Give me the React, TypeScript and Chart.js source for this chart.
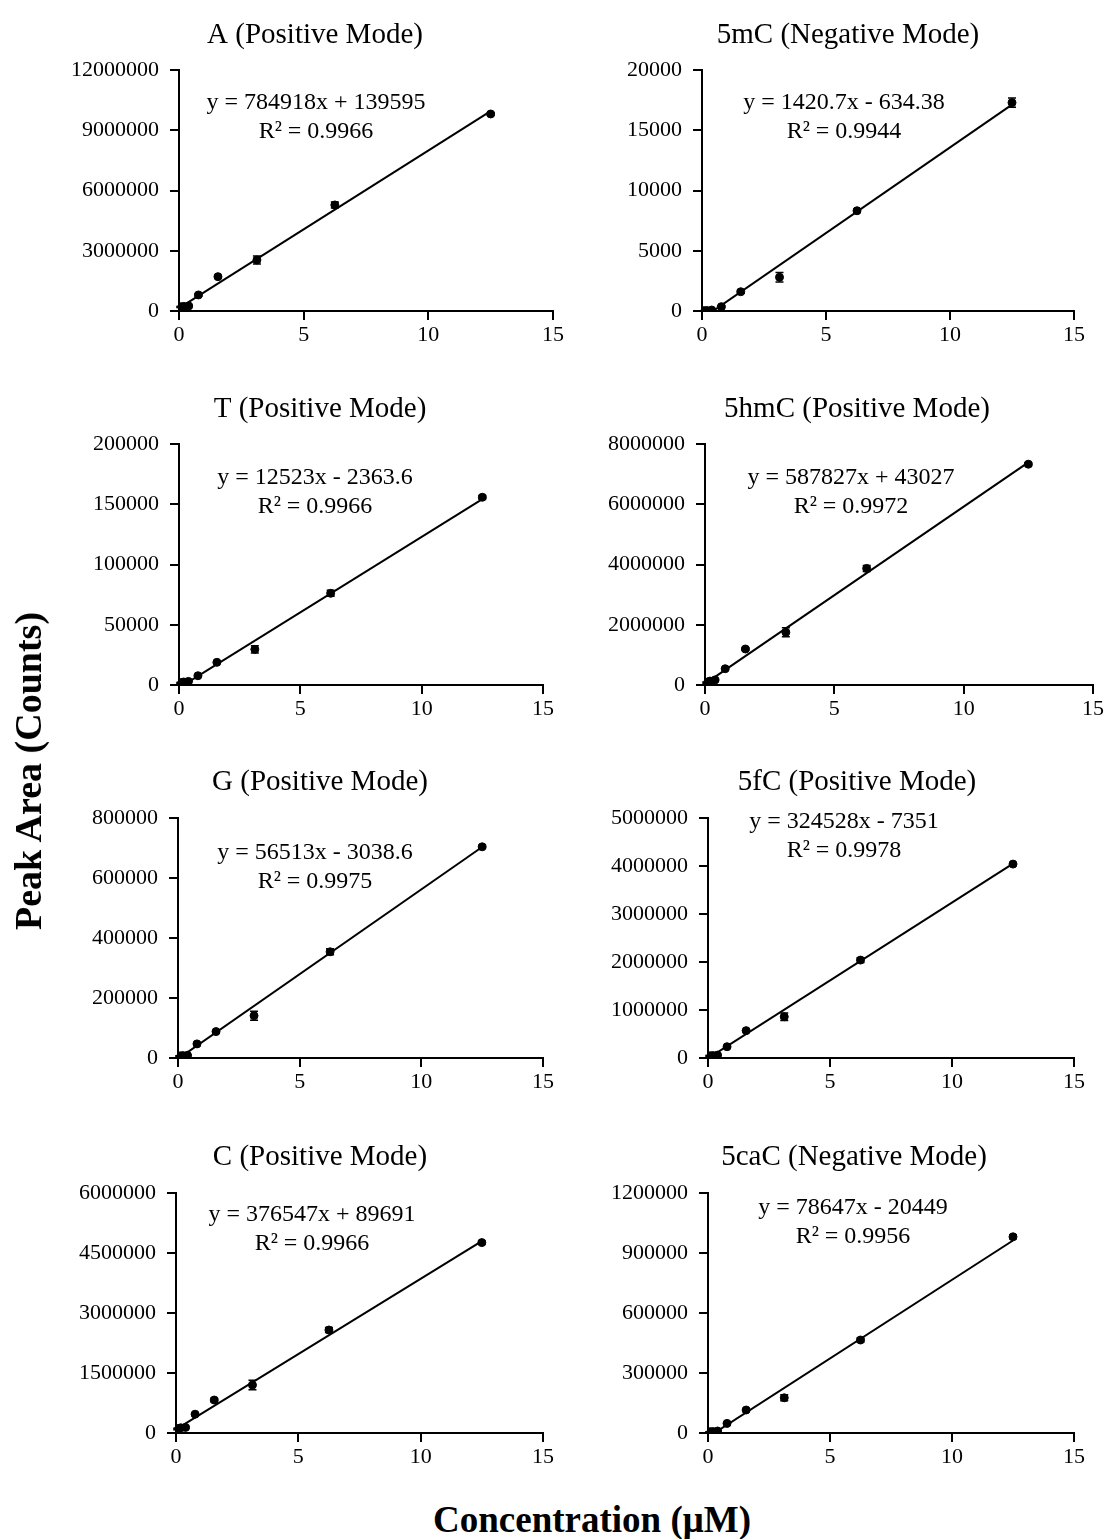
import React, { useEffect, useRef } from "react";
import { Chart, registerables } from "chart.js";

Chart.register(...registerables);

// ---------- data ----------
const CONCENTRATIONS = [0.049, 0.098, 0.195, 0.39, 0.78, 1.5625, 3.125, 6.25, 12.5];

const A_VALUES = [200000, 210000, 230000, 250000, 800000, 1710000, 2540000, 5280000, 9810000];
const A_ERRORS = [30000, 30000, 30000, 40000, 60000, 60000, 200000, 150000, 60000];

const MC5_VALUES = [10, 20, 40, 80, 360, 1600, 2800, 8320, 17290];
const MC5_ERRORS = [20, 20, 30, 40, 80, 120, 390, 150, 390];

const T_VALUES = [1500, 2000, 2500, 3000, 7700, 18800, 29600, 76100, 155800];
const T_ERRORS = [500, 500, 500, 600, 800, 800, 3000, 2500, 1500];

const HMC5_VALUES = [80000, 100000, 130000, 170000, 540000, 1195000, 1750000, 3870000, 7330000];
const HMC5_ERRORS = [20000, 20000, 30000, 40000, 30000, 40000, 150000, 100000, 50000];

const G_VALUES = [6000, 7000, 8000, 9000, 47000, 88000, 141000, 354000, 704000];
const G_ERRORS = [1500, 1500, 2000, 2000, 5000, 4000, 15000, 10000, 5000];

const FC5_VALUES = [40000, 45000, 50000, 60000, 235000, 570000, 860000, 2040000, 4040000];
const FC5_ERRORS = [10000, 10000, 10000, 15000, 20000, 20000, 80000, 50000, 30000];

const C_VALUES = [100000, 110000, 130000, 140000, 470000, 825000, 1200000, 2575000, 4760000];
const C_ERRORS = [20000, 20000, 20000, 30000, 30000, 40000, 120000, 60000, 40000];

const CAC5_VALUES = [5000, 6000, 7000, 10000, 48000, 115000, 176000, 465000, 981000];
const CAC5_ERRORS = [1500, 1500, 2000, 2000, 5000, 5000, 15000, 10000, 10000];

const PANEL_VALUES = [A_VALUES, MC5_VALUES, T_VALUES, HMC5_VALUES, G_VALUES, FC5_VALUES, C_VALUES, CAC5_VALUES];
const PANEL_ERRORS = [A_ERRORS, MC5_ERRORS, T_ERRORS, HMC5_ERRORS, G_ERRORS, FC5_ERRORS, C_ERRORS, CAC5_ERRORS];

const PANEL_TITLES = [
  "A (Positive Mode)",
  "5mC (Negative Mode)",
  "T (Positive Mode)",
  "5hmC (Positive Mode)",
  "G (Positive Mode)",
  "5fC (Positive Mode)",
  "C (Positive Mode)",
  "5caC (Negative Mode)",
];

const Y_MAX = [12000000, 20000, 200000, 8000000, 800000, 5000000, 6000000, 1200000];
const Y_STEP = [3000000, 5000, 50000, 2000000, 200000, 1000000, 1500000, 300000];

const X_MAX = 15;
const X_STEP = 5;

const SLOPES = [784918, 1420.7, 12523, 587827, 56513, 324528, 376547, 78647];
const INTERCEPTS = [139595, -634.38, -2363.6, 43027, -3038.6, -7351, 89691, -20449];
const EQUATIONS = [
  "y = 784918x + 139595",
  "y = 1420.7x - 634.38",
  "y = 12523x - 2363.6",
  "y = 587827x + 43027",
  "y = 56513x - 3038.6",
  "y = 324528x - 7351",
  "y = 376547x + 89691",
  "y = 78647x - 20449",
];
const R_SQUARED = ["R² = 0.9966", "R² = 0.9944", "R² = 0.9966", "R² = 0.9972", "R² = 0.9975", "R² = 0.9978", "R² = 0.9966", "R² = 0.9956"];

const Y_AXIS_TITLE = "Peak Area (Counts)";
const X_AXIS_TITLE = "Concentration (μM)";

// ---------- layout (page pixels) ----------
// plot area [left, top, right, bottom]
const PLOT_BOXES = [
  [179, 70, 553, 311],
  [702, 70, 1074, 311],
  [179, 444, 543, 685],
  [705, 444, 1093, 685],
  [178, 818, 543, 1058],
  [708, 818, 1074, 1058],
  [176, 1193, 543, 1433],
  [708, 1193, 1074, 1433],
];
const TITLE_POS = [
  [315, 43], [848, 43],
  [320, 417], [857, 417],
  [320, 790], [857, 790],
  [320, 1165], [854, 1165],
];
const EQ_POS = [
  [316, 103], [844, 103],
  [315, 478], [851, 478],
  [315, 853], [844, 822],
  [312, 1215], [853, 1208],
];
const EQ_LINE_GAP = 29;

const YW = 150;
const PAD_TOP = 70;
const PAD_RIGHT = 30;
const XH = 45;

const FONT = "'Liberation Serif', 'Times New Roman', Times, serif";

function Panel({ idx }: { idx: number }) {
  const ref = useRef<HTMLCanvasElement | null>(null);
  const [L, T, R, B] = PLOT_BOXES[idx];
  const left = L - YW;
  const top = T - PAD_TOP;
  const width = R - L + YW + PAD_RIGHT;
  const height = B - T + PAD_TOP + XH;

  useEffect(() => {
    if (!ref.current) return;
    const xs = CONCENTRATIONS;
    const ys = PANEL_VALUES[idx];
    const errs = PANEL_ERRORS[idx];
    const xMin = Math.min(...xs);
    const xMaxD = Math.max(...xs);
    const trend = [
      { x: xMin, y: SLOPES[idx] * xMin + INTERCEPTS[idx] },
      { x: xMaxD, y: SLOPES[idx] * xMaxD + INTERCEPTS[idx] },
    ];

    const errorBars = {
      id: "errorBars" + idx,
      afterDatasetsDraw(chart: any) {
        const ctx = chart.ctx;
        const xs_ = chart.scales.x;
        const ys_ = chart.scales.y;
        ctx.save();
        ctx.strokeStyle = "#000";
        ctx.lineWidth = 1.5;
        xs.forEach((xv, i) => {
          const px = xs_.getPixelForValue(xv);
          const pTop = ys_.getPixelForValue(ys[i] + errs[i]);
          const pBot = ys_.getPixelForValue(Math.max(0, ys[i] - errs[i]));
          ctx.beginPath();
          ctx.moveTo(px, pTop);
          ctx.lineTo(px, pBot);
          ctx.moveTo(px - 4, pTop);
          ctx.lineTo(px + 4, pTop);
          ctx.moveTo(px - 4, pBot);
          ctx.lineTo(px + 4, pBot);
          ctx.stroke();
        });
        ctx.restore();
      },
    };

    const texts = {
      id: "panelTexts" + idx,
      afterDraw(chart: any) {
        const ctx = chart.ctx;
        ctx.save();
        ctx.fillStyle = "#000";
        ctx.textAlign = "center";
        ctx.textBaseline = "alphabetic";
        ctx.font = `29px ${FONT}`;
        ctx.fillText(PANEL_TITLES[idx], TITLE_POS[idx][0] - left, TITLE_POS[idx][1] - top);
        ctx.textBaseline = "middle";
        ctx.font = `24px ${FONT}`;
        ctx.fillText(EQUATIONS[idx], EQ_POS[idx][0] - left, EQ_POS[idx][1] - top);
        ctx.fillText(R_SQUARED[idx], EQ_POS[idx][0] - left, EQ_POS[idx][1] + EQ_LINE_GAP - top);
        ctx.restore();
      },
    };

    const tickFont = { family: FONT, size: 22 };

    const chart = new Chart(ref.current, {
      type: "scatter",
      data: {
        datasets: [
          {
            type: "scatter",
            data: xs.map((x, i) => ({ x, y: ys[i] })),
            backgroundColor: "#000",
            borderColor: "#000",
            pointRadius: 4,
            pointStyle: "circle",
            order: 1,
          },
          {
            type: "line",
            data: trend,
            borderColor: "#000",
            borderWidth: 2,
            pointRadius: 0,
            fill: false,
            order: 2,
          },
        ],
      } as any,
      options: {
        animation: false,
        responsive: false,
        devicePixelRatio: 1,
        layout: { padding: { top: PAD_TOP, right: PAD_RIGHT, left: 0, bottom: 0 } },
        plugins: {
          legend: { display: false },
          tooltip: { enabled: false },
          title: { display: false },
        },
        scales: {
          x: {
            type: "linear",
            min: 0,
            max: X_MAX,
            afterFit: (s: any) => {
              s.height = XH;
            },
            ticks: {
              stepSize: X_STEP,
              color: "#000",
              font: tickFont,
              padding: 2,
              maxRotation: 0,
              callback: (v: any) => String(v),
            },
            grid: {
              display: true,
              drawOnChartArea: false,
              drawTicks: true,
              tickLength: 9,
              color: "#000",
              lineWidth: 2,
            },
            border: { display: true, color: "#000", width: 2 },
          },
          y: {
            type: "linear",
            min: 0,
            max: Y_MAX[idx],
            afterFit: (s: any) => {
              s.width = YW;
            },
            ticks: {
              stepSize: Y_STEP[idx],
              color: "#000",
              font: tickFont,
              padding: 11,
              callback: (v: any) => String(v),
            },
            grid: {
              display: true,
              drawOnChartArea: false,
              drawTicks: true,
              tickLength: 9,
              color: "#000",
              lineWidth: 2,
            },
            border: { display: true, color: "#000", width: 2 },
          },
        },
      } as any,
      plugins: [errorBars, texts],
    });
    return () => chart.destroy();
  }, [idx]);

  return (
    <canvas
      ref={ref}
      width={width}
      height={height}
      style={{ position: "absolute", left, top, width, height }}
    />
  );
}

export default function App() {
  return (
    <div
      style={{
        position: "absolute",
        left: 0,
        top: 0,
        width: 1106,
        height: 1539,
        background: "#fff",
        overflow: "hidden",
      }}
    >
      {PANEL_TITLES.map((_, i) => (
        <Panel key={i} idx={i} />
      ))}
      <div
        style={{
          position: "absolute",
          left: 28,
          top: 771,
          transform: "translate(-50%, -50%) rotate(-90deg)",
          whiteSpace: "nowrap",
          fontFamily: FONT,
          fontWeight: "bold",
          fontSize: 38,
          lineHeight: "40px",
          color: "#000",
        }}
      >
        {Y_AXIS_TITLE}
      </div>
      <div
        style={{
          position: "absolute",
          left: 592,
          top: 1520,
          transform: "translate(-50%, -50%)",
          whiteSpace: "nowrap",
          fontFamily: FONT,
          fontWeight: "bold",
          fontSize: 37,
          lineHeight: "40px",
          color: "#000",
        }}
      >
        {X_AXIS_TITLE}
      </div>
    </div>
  );
}
